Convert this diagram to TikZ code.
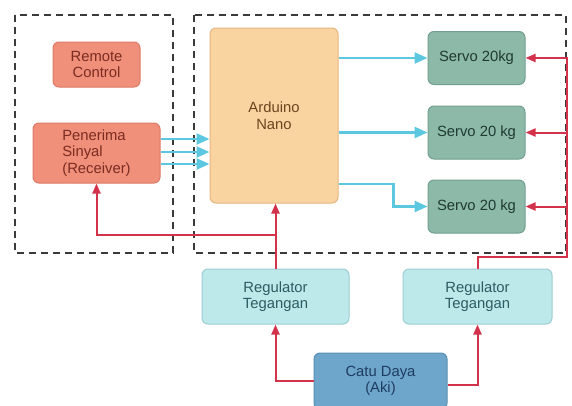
\documentclass[tikz,border=0pt]{standalone}
\usepackage{fontspec}
\setmainfont{Liberation Sans}
\usetikzlibrary{arrows.meta,calc}
\definecolor{salmonF}{HTML}{F0907A}
\definecolor{salmonD}{HTML}{DE7A66}
\definecolor{salmonT}{HTML}{7A2C22}
\definecolor{ardF}{HTML}{F9D3A0}
\definecolor{ardD}{HTML}{E6B67E}
\definecolor{ardT}{HTML}{6E4420}
\definecolor{servoF}{HTML}{8DB9A9}
\definecolor{servoD}{HTML}{729F90}
\definecolor{servoT}{HTML}{1F3A32}
\definecolor{regF}{HTML}{BDE9EA}
\definecolor{regD}{HTML}{9CCED2}
\definecolor{regT}{HTML}{2C5C62}
\definecolor{catuF}{HTML}{6EA5CA}
\definecolor{catuD}{HTML}{5A8FB4}
\definecolor{catuT}{HTML}{1E3C62}
\definecolor{cyanL}{HTML}{5CC8E0}
\definecolor{redL}{HTML}{D2334A}
\definecolor{dashC}{HTML}{3A3A3A}
\begin{document}
\begin{tikzpicture}[x=1pt,y=-1pt,
  blk/.style={draw, line width=1pt, rounded corners=6pt, inner sep=2pt, align=center,
    font=\fontsize{14.8}{16.5}\selectfont},
  salm/.style={blk, fill=salmonF, draw=salmonD, text=salmonT},
  ard/.style={blk, fill=ardF, draw=ardD, text=ardT},
  servo/.style={blk, fill=servoF, draw=servoD, text=servoT, minimum width=97pt, minimum height=53pt},
  reg/.style={blk, fill=regF, draw=regD, text=regT, minimum height=55pt},
  catu/.style={blk, fill=catuF, draw=catuD, text=catuT},
  cy/.style={draw=cyanL, line width=2.4pt, -{Triangle[length=13pt,width=11pt]}},
  rd/.style={draw=redL, line width=2pt},
  rda/.style={rd, -{Triangle[length=10pt,width=8pt]}},
  grp/.style={draw=dashC, line width=2.2pt, dash pattern=on 7pt off 5pt}
]
\useasboundingbox (0,0) rectangle (572,405);
\fill[white] (0,0) rectangle (572,405);

% group boxes
\draw[grp] (15,15) rectangle (173,253);
\draw[grp] (194,15) rectangle (566,253);

% nodes
\node[salm, minimum width=87pt, minimum height=45pt] (remote) at (96.5,64.5) {Remote\\Control};
\node[salm, minimum width=127pt, minimum height=60pt, align=left] (recv) at (96.5,153) {Penerima\\Sinyal\\(Receiver)};
\node[ard, minimum width=128pt, minimum height=175pt] (ard) at (274,115.5) {Arduino\\Nano};
\node[servo] (s1) at (476.5,58) {Servo 20kg};
\node[servo] (s2) at (476.5,132.5) {Servo 20 kg};
\node[servo] (s3) at (476.5,206.5) {Servo 20 kg};
\node[reg, minimum width=147pt] (reg1) at (275.5,296.5) {Regulator\\Tegangan};
\node[reg, minimum width=149pt] (reg2) at (477.5,296.5) {Regulator\\Tegangan};
\node[catu, minimum width=133pt, minimum height=56pt] (catu) at (380.5,381) {Catu Daya\\(Aki)};

% receiver -> arduino
\draw[cy] ($(recv.east)+(0,-14)$) -- ($(recv.east -| ard.west)+(0,-14)$);
\draw[cy] ($(recv.east)+(0,-1)$) -- ($(recv.east -| ard.west)+(0,-1)$);
\draw[cy] ($(recv.east)+(0,11)$) -- ($(recv.east -| ard.west)+(0,11)$);

% arduino -> servos
\draw[cy] (ard.east |- s1.west) -- (s1.west);
\draw[cy] (ard.east |- s2.west) -- (s2.west);
\coordinate (a3) at (ard.east |- 0,184);
\draw[cy] (a3) -- ++(55,0) |- (s3.west);

% power rail to servos
\coordinate (rb) at (567,257);
\coordinate (rt) at (567,58);
\draw[rda] (reg2.north) |- (rb) -- (rt) -- (s1.east);
\draw[rda] (s2.east -| rt) -- (s2.east);
\draw[rda] (s3.east -| rt) -- (s3.east);

% regulator 1 -> arduino and receiver
\draw[rda] (reg1.north) -- (reg1.north |- ard.south);
\draw[rda] (reg1.north |- 0,235) -| (recv.south);

% battery -> regulators
\draw[rda] (catu.west) -| (reg1.south);
\draw[rda] ($(catu.east)+(0,4)$) -| (reg2.south);
\end{tikzpicture}
\end{document}
